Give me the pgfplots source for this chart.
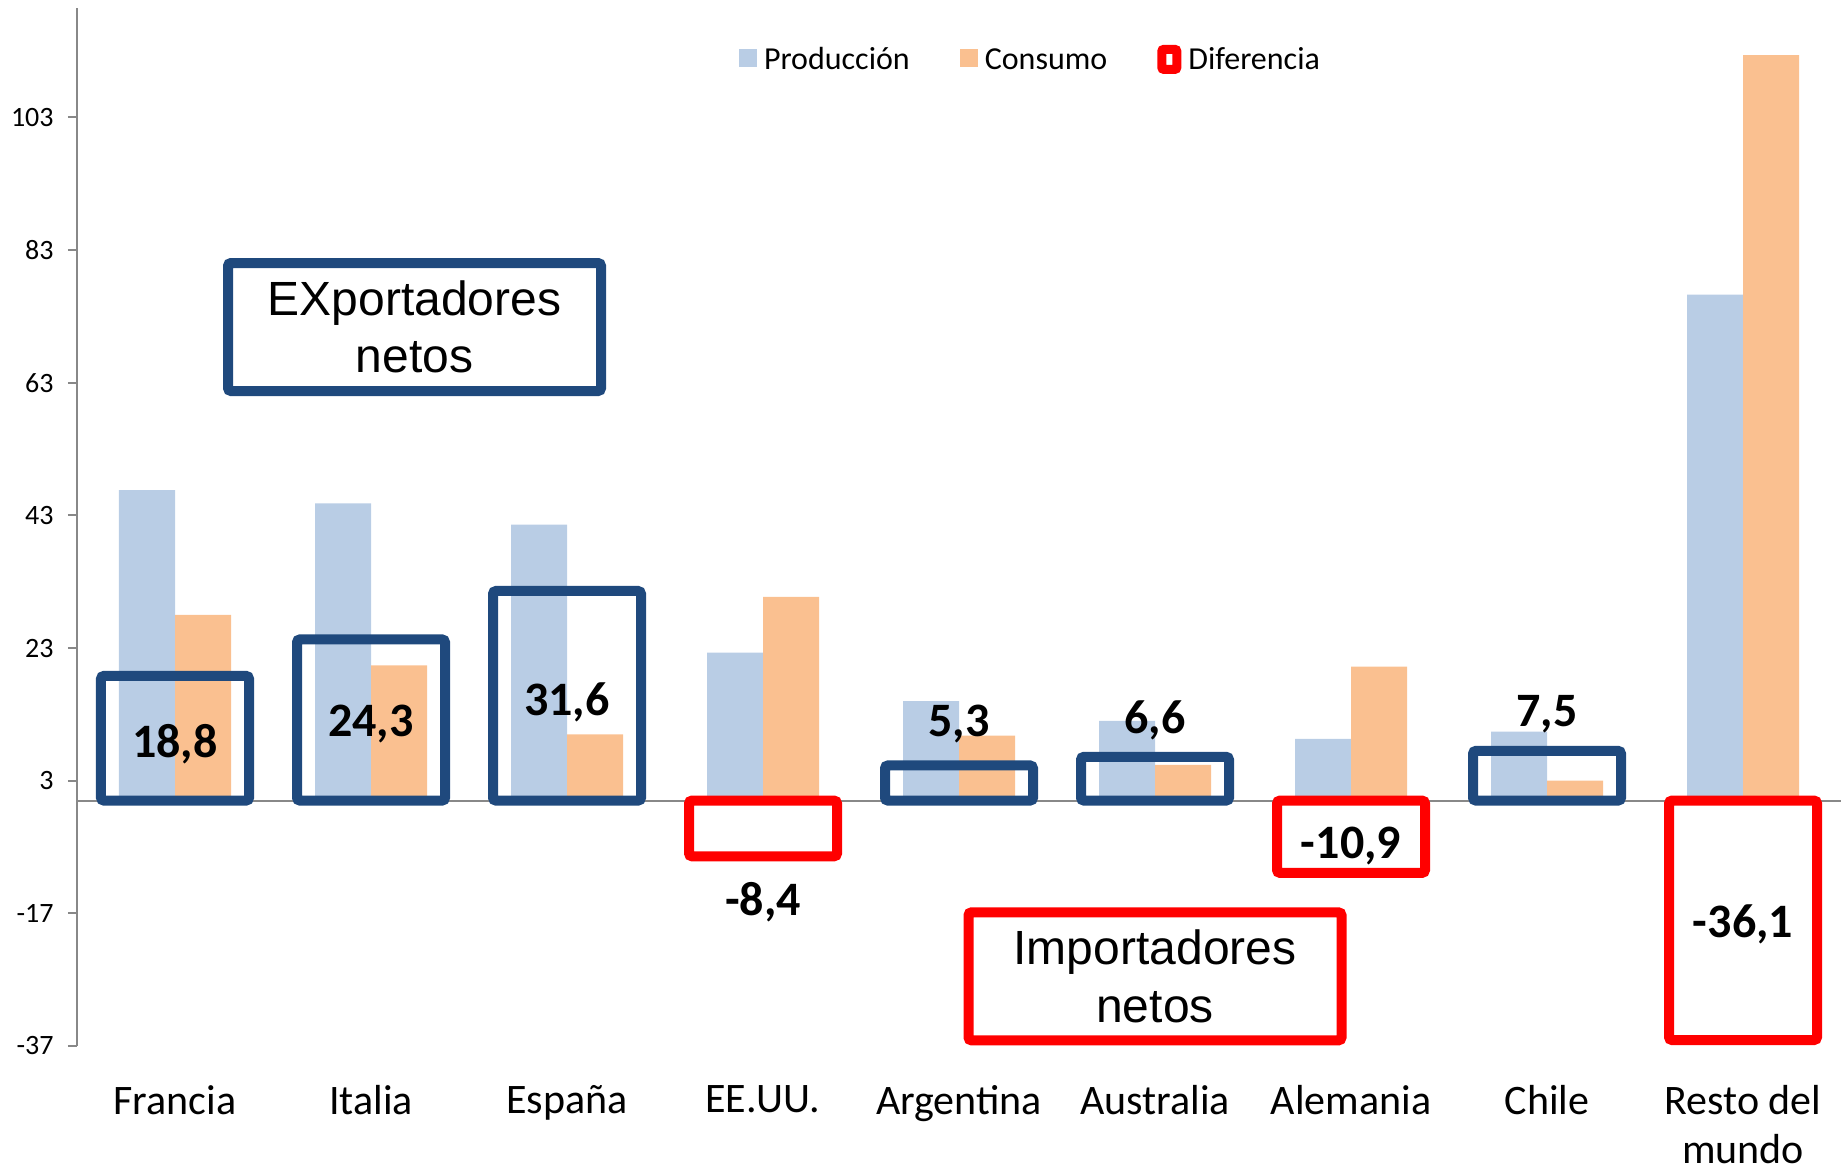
\documentclass[border=0pt]{standalone}
\usepackage{fontspec}
\setmainfont{Carlito}
\newfontfamily\arialf{Liberation Sans}
\usepackage{pgfplots}
\pgfplotsset{compat=1.18}
\definecolor{prodc}{HTML}{B9CDE5}
\definecolor{consc}{HTML}{FAC090}
\definecolor{boxblue}{HTML}{1F497D}
\definecolor{boxred}{HTML}{FF0000}
\definecolor{axisgray}{HTML}{888888}
\begin{document}
\begin{tikzpicture}
\useasboundingbox (-38.5pt,-62.5pt) rectangle (882pt,523pt);
\begin{axis}[
  at={(0pt,0pt)}, anchor=south west,
  scale only axis, width=882pt, height=519pt,
  xmin=-0.5, xmax=8.5, ymin=-37, ymax=119.5,
  clip=false,
  axis lines*=left,
  x axis line style={draw=none},
  y axis line style={draw=axisgray, line width=1pt},
  xtick={0,...,8},
  xticklabels={Francia, Italia, España, EE.UU., Argentina, Australia, Alemania, Chile, {Resto del\\mundo}},
  xtick style={draw=none},
  xticklabel style={font=\fontsize{21}{24.5}\selectfont, align=center, anchor=north, inner sep=0pt, yshift=-15pt},
  ytick={-37,-17,3,23,43,63,83,103},
  ytick style={draw=axisgray, line width=1pt},
  tick align=outside,
  major tick length=4.5pt,
  yticklabel style={font=\fontsize{14}{16.8}\selectfont, inner sep=0pt, anchor=east, xshift=-7pt},
  /pgf/number format/assume math mode=true,
  legend columns=3,
  legend cell align=left,
  legend style={draw=none, fill=none, inner sep=0pt, outer sep=0pt,
    at={(0.3753,0.9505)}, anchor=west,
    font=\fontsize{16}{19}\selectfont,
    nodes={inner sep=0pt},
    /tikz/every odd column/.append style={column sep=3.5pt},
    /tikz/every even column/.append style={column sep=25pt},
    /tikz/column 2/.append style={column sep=29pt},
    /tikz/column 4/.append style={column sep=25pt}},
]
\addplot[axisgray, line width=1pt, forget plot] coordinates {(-0.5,0) (8.5,0)};
\addplot[ybar, bar width=28pt, bar shift=-14pt, fill=prodc, draw=none,
  legend image code/.code={\fill[prodc] (0pt,-3.5pt) rectangle (9pt,5.5pt);}]
  coordinates {(0,46.8) (1,44.8) (2,41.6) (3,22.3) (4,15.0) (5,12.0) (6,9.3) (7,10.4) (8,76.3)};
\addlegendentry{Producción}
\addplot[ybar, bar width=28pt, bar shift=14pt, fill=consc, draw=none,
  legend image code/.code={\fill[consc] (0pt,-3.5pt) rectangle (9pt,5.5pt);}]
  coordinates {(0,28.0) (1,20.4) (2,10.0) (3,30.7) (4,9.8) (5,5.4) (6,20.2) (7,3.0) (8,112.4)};
\addlegendentry{Consumo}
\addplot[ybar, bar width=74pt, bar shift=0pt, fill=none, draw=boxblue, line width=5pt, rounded corners=1.5pt, forget plot]
  coordinates {(0,18.8) (1,24.3) (2,31.6) (4,5.3) (5,6.6) (7,7.5)};
\addplot[ybar, bar width=74pt, bar shift=0pt, fill=none, draw=boxred, line width=5pt, rounded corners=1.5pt,
  legend image code/.code={\draw[boxred, line width=4.5pt, rounded corners=1pt] (2.25pt,-4.5pt) rectangle (9.75pt,5.5pt);}]
  coordinates {(3,-8.4) (6,-10.9) (8,-36.1)};
\addlegendentry{Diferencia}
\addplot[draw=none, mark=none, forget plot, nodes near coords, point meta=explicit symbolic,
  every node near coord/.append style={anchor=base, inner sep=0pt, font=\bfseries\fontsize{24}{28}\selectfont, text=black}]
  table[meta=lab] {
x y lab
0 6.55 18,8
1 9.6 24,3
2 12.9 31,6
3 -17.4 -8,4
4 9.7 5,3
5 10.1 6,6
6 -8.7 -10,9
7 11.2 7,5
8 -20.7 -36,1
};
\node[draw=boxblue, line width=5pt, rounded corners=1.5pt, minimum width=186.5pt, minimum height=64pt, align=center,
  font=\arialf\fontsize{24}{28.8}\selectfont, inner sep=0pt] at (axis cs:1.222,71.4) {EXportadores\\netos};
\node[draw=boxred, line width=5pt, rounded corners=1.5pt, minimum width=186.5pt, minimum height=64pt, align=center,
  font=\arialf\fontsize{24}{28.8}\selectfont, inner sep=0pt] at (axis cs:5.0,-26.5) {Importadores\\netos};
\end{axis}
\end{tikzpicture}
\end{document}
